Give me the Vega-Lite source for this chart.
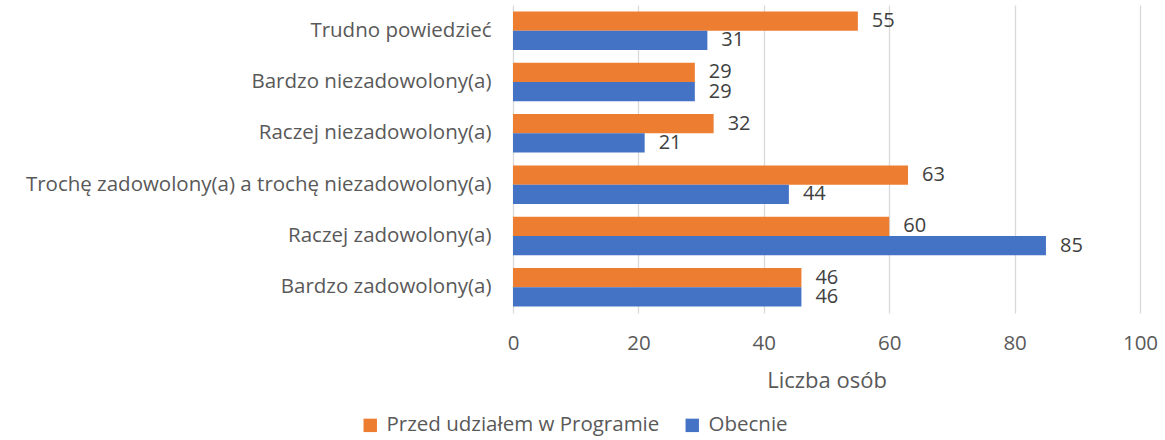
{
  "$schema": "https://vega.github.io/schema/vega-lite/v6.json",
  "width": 627,
  "height": 308,
  "autosize": {"type": "none"},
  "padding": {"left": 513, "top": 5, "right": 25, "bottom": 127},
  "config": {
    "font": "Open Sans",
    "view": {"stroke": null},
    "axis": {"labelFont": "Open Sans", "titleFont": "Open Sans"},
    "legend": {"labelFont": "Open Sans"}
  },
  "data": {
    "values": [
      {"kat": "Trudno powiedzieć", "seria": "Przed udziałem w Programie", "n": 55},
      {"kat": "Trudno powiedzieć", "seria": "Obecnie", "n": 31},
      {"kat": "Bardzo niezadowolony(a)", "seria": "Przed udziałem w Programie", "n": 29},
      {"kat": "Bardzo niezadowolony(a)", "seria": "Obecnie", "n": 29},
      {"kat": "Raczej niezadowolony(a)", "seria": "Przed udziałem w Programie", "n": 32},
      {"kat": "Raczej niezadowolony(a)", "seria": "Obecnie", "n": 21},
      {"kat": "Trochę zadowolony(a) a trochę niezadowolony(a)", "seria": "Przed udziałem w Programie", "n": 63},
      {"kat": "Trochę zadowolony(a) a trochę niezadowolony(a)", "seria": "Obecnie", "n": 44},
      {"kat": "Raczej zadowolony(a)", "seria": "Przed udziałem w Programie", "n": 60},
      {"kat": "Raczej zadowolony(a)", "seria": "Obecnie", "n": 85},
      {"kat": "Bardzo zadowolony(a)", "seria": "Przed udziałem w Programie", "n": 46},
      {"kat": "Bardzo zadowolony(a)", "seria": "Obecnie", "n": 46}
    ]
  },
  "encoding": {
    "y": {
      "field": "kat",
      "type": "nominal",
      "sort": null,
      "scale": {"paddingInner": 0.25, "paddingOuter": 0.125},
      "axis": {
        "title": null,
        "domain": false,
        "ticks": false,
        "labelFontSize": 20.5,
        "labelColor": "#595959",
        "labelPadding": 22,
        "labelLimit": 600
      }
    },
    "yOffset": {
      "field": "seria",
      "type": "nominal",
      "sort": ["Przed udziałem w Programie", "Obecnie"]
    },
    "x": {
      "field": "n",
      "type": "quantitative",
      "scale": {"domain": [0, 100]},
      "axis": {
        "title": "Liczba osób",
        "titleFontSize": 22,
        "titleFontWeight": "normal",
        "titleColor": "#595959",
        "titlePadding": 17,
        "values": [0, 20, 40, 60, 80, 100],
        "domain": false,
        "ticks": false,
        "labelFlush": false,
        "labelFontSize": 20.5,
        "labelColor": "#595959",
        "labelPadding": 20,
        "gridColor": "#d9d9d9",
        "gridWidth": 1.3
      }
    }
  },
  "layer": [
    {
      "mark": {"type": "bar"},
      "encoding": {
        "color": {
          "field": "seria",
          "type": "nominal",
          "sort": ["Przed udziałem w Programie", "Obecnie"],
          "scale": {"domain": ["Przed udziałem w Programie", "Obecnie"], "range": ["#ED7D31", "#4472C4"]},
          "legend": {
            "title": null,
            "orient": "none",
            "direction": "horizontal",
            "legendX": -153,
            "legendY": 410,
            "symbolType": "square",
            "symbolSize": 180,
            "symbolStrokeWidth": 0,
            "labelFontSize": 20.5,
            "labelColor": "#595959",
            "labelLimit": 400,
            "columnPadding": 22,
            "labelOffset": 6
          }
        }
      }
    },
    {
      "mark": {"type": "text", "align": "left", "dx": 14, "fontSize": 20, "color": "#404040"},
      "encoding": {"text": {"field": "n", "type": "quantitative"}}
    }
  ]
}
